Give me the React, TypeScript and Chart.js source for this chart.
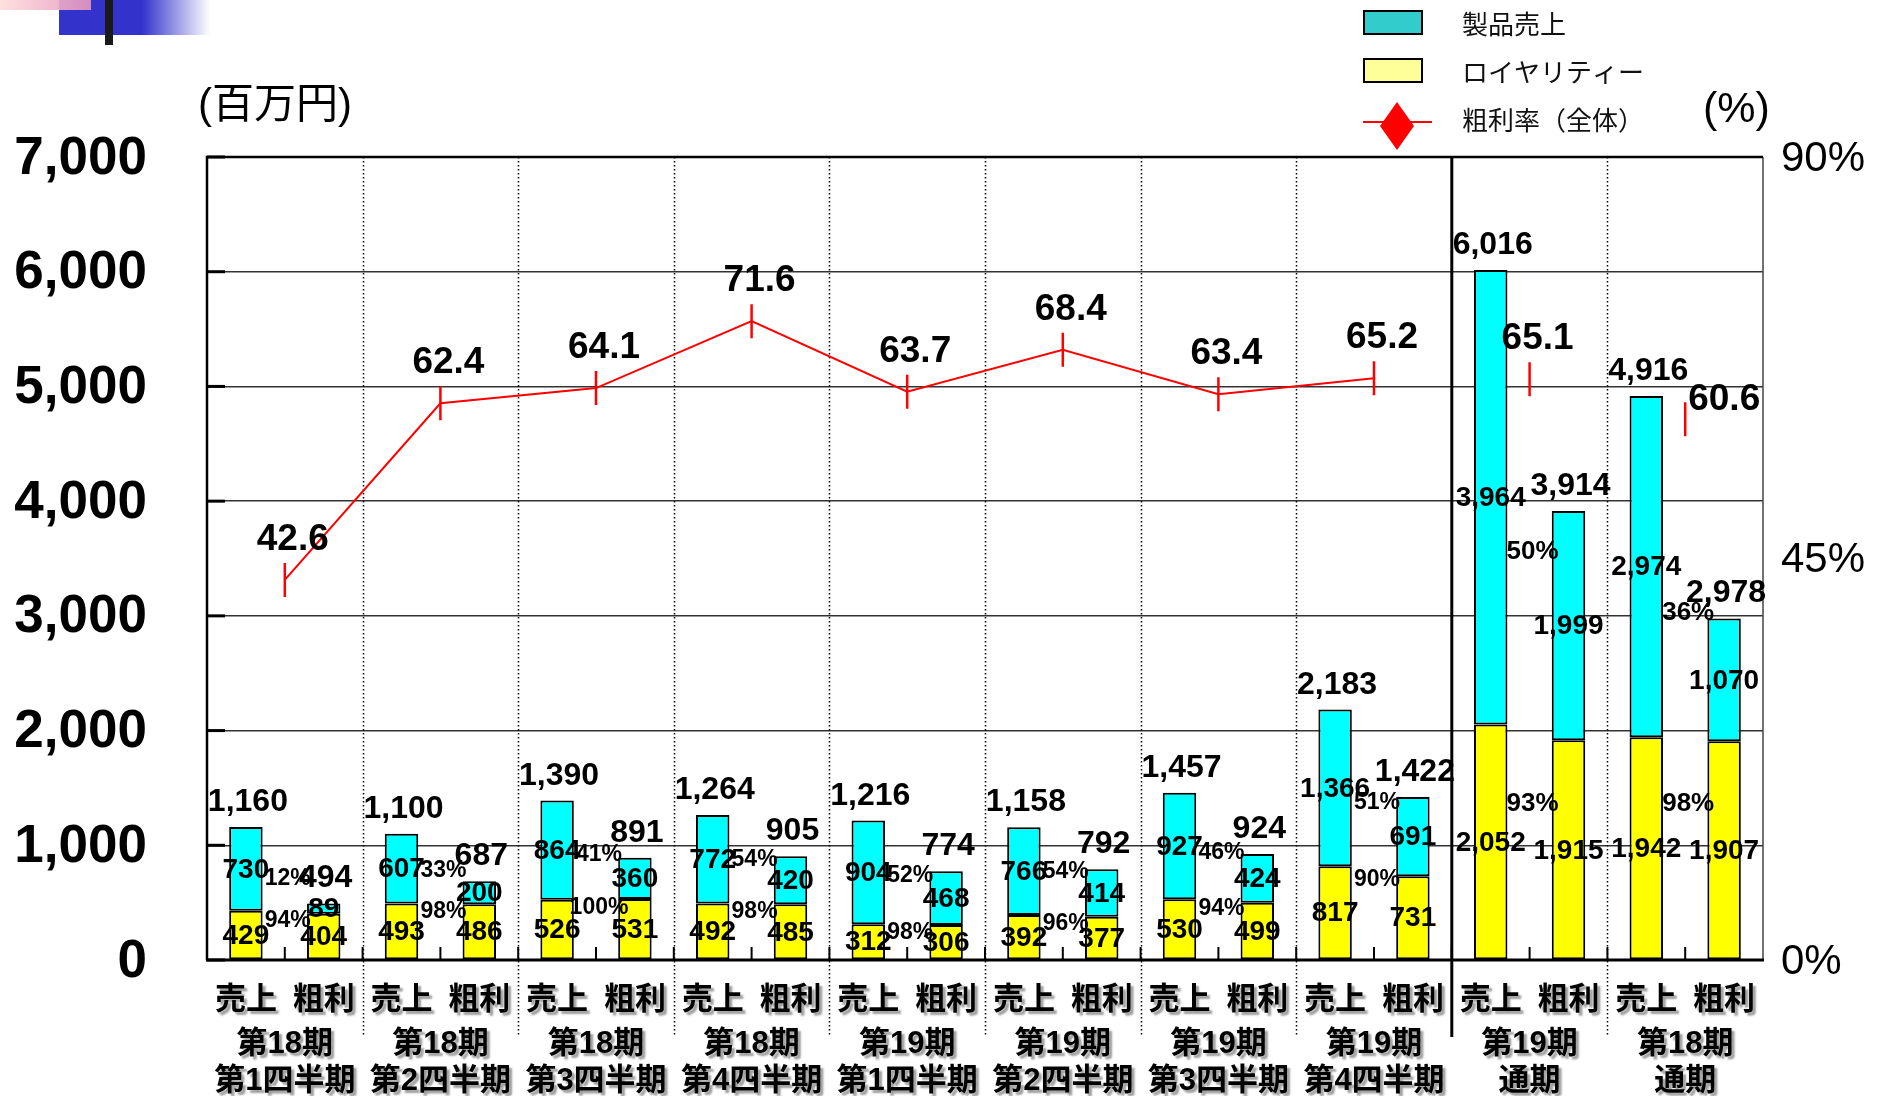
import React, { useEffect, useRef } from 'react';
import { Chart, registerables } from 'chart.js';

Chart.register(...registerables);

const W = 1883;
const H = 1096;
const FONT = '"Liberation Sans", Arial, "Noto Sans CJK JP", sans-serif';
const JFONT = '"Noto Sans CJK JP", "Liberation Sans", sans-serif';

// ---- data ----
const barKinds = ['売上', '粗利'];
const periodNames = ['第18期', '第18期', '第18期', '第18期', '第19期', '第19期', '第19期', '第19期', '第19期', '第18期'];
const periodSubs = ['第1四半期', '第2四半期', '第3四半期', '第4四半期', '第1四半期', '第2四半期', '第3四半期', '第4四半期', '通期', '通期'];

const salesRoyalty = [429, 493, 526, 492, 312, 392, 530, 817, 2052, 1942];
const salesProduct = [730, 607, 864, 772, 904, 766, 927, 1366, 3964, 2974];
const salesTotal = [1160, 1100, 1390, 1264, 1216, 1158, 1457, 2183, 6016, 4916];
const gpRoyalty = [404, 486, 531, 485, 306, 377, 499, 731, 1915, 1907];
const gpProduct = [89, 200, 360, 420, 468, 414, 424, 691, 1999, 1070];
const gpTotal = [494, 687, 891, 905, 774, 792, 924, 1422, 3914, 2978];
const productMarginPct = [12, 33, 41, 54, 52, 54, 46, 51, 50, 36];
const royaltyMarginPct = [94, 98, 100, 98, 98, 96, 94, 90, 93, 98];

const grossMarginQuarter = [42.6, 62.4, 64.1, 71.6, 63.7, 68.4, 63.4, 65.2];
const grossMarginYear = [65.1, 60.6];

const yTicks = [0, 1000, 2000, 3000, 4000, 5000, 6000, 7000];
const yTickLabels = ['0', '1,000', '2,000', '3,000', '4,000', '5,000', '6,000', '7,000'];
const y2Ticks = [0, 45, 90];
const y2TickLabels = ['0%', '45%', '90%'];
const legendLabels = ['製品売上', 'ロイヤリティー', '粗利率（全体）'];
const leftUnit = '(百万円)';
const rightUnit = '(%)';

const nGroups = periodNames.length;
const nQuarters = grossMarginQuarter.length;

const groupKeys = periodNames.map((p, k) => p + periodSubs[k]);
const categoryLabels: string[] = [];
const royaltyData: number[] = [];
const productData: number[] = [];
const totalData: number[] = [];
for (let k = 0; k < nGroups; k++) {
  categoryLabels.push(barKinds[0], barKinds[1]);
  royaltyData.push(salesRoyalty[k], gpRoyalty[k]);
  productData.push(salesProduct[k], gpProduct[k]);
  totalData.push(salesTotal[k], gpTotal[k]);
}
const quarterLine: (number | null)[] = groupKeys.map((_, k) => (k < nQuarters ? grossMarginQuarter[k] : null));
const yearLine: (number | null)[] = groupKeys.map((_, k) => (k >= nQuarters ? grossMarginYear[k - nQuarters] : null));

const fmt = (n: number) => n.toLocaleString('en-US');

const boundaryPx = (x: any, i: number) => (x.getPixelForValue(i) + x.getPixelForValue(i + 1)) / 2;

const customPlugin = {
  id: 'customDraw',
  beforeDatasetsDraw(chart: any) {
    const { ctx, chartArea: a, scales } = chart;
    const x = scales.x;
    const sepBottom = a.bottom + 77;
    ctx.save();
    ctx.strokeStyle = '#000';
    ctx.lineWidth = 1.5;
    ctx.setLineDash([1.5, 2.5]);
    for (let k = 0; k < nGroups - 1; k++) {
      if (k === nQuarters - 1) continue;
      const px = Math.round(boundaryPx(x, 2 * k + 1)) + 0.5;
      ctx.beginPath();
      ctx.moveTo(px, a.top);
      ctx.lineTo(px, sepBottom);
      ctx.stroke();
    }
    ctx.setLineDash([]);
    const sx = boundaryPx(x, 2 * (nQuarters - 1) + 1);
    ctx.lineWidth = 3;
    ctx.beginPath();
    ctx.moveTo(sx, a.top);
    ctx.lineTo(sx, sepBottom);
    ctx.stroke();
    ctx.restore();
  },
  afterDatasetsDraw(chart: any) {
    const { ctx, chartArea: a, scales } = chart;
    const x = scales.x;
    const y = scales.y;
    ctx.save();
    ctx.strokeStyle = '#444';
    ctx.lineWidth = 1.5;
    ctx.beginPath();
    ctx.moveTo(a.right, a.top);
    ctx.lineTo(a.right, a.bottom);
    ctx.stroke();
    ctx.strokeStyle = '#000';
    ctx.lineWidth = 2.5;
    ctx.beginPath();
    ctx.moveTo(a.left, a.bottom);
    ctx.lineTo(a.left, a.top);
    ctx.lineTo(a.right, a.top);
    ctx.stroke();
    ctx.lineWidth = 3;
    ctx.beginPath();
    ctx.moveTo(a.left - 1, a.bottom);
    ctx.lineTo(a.right + 1, a.bottom);
    ctx.stroke();
    yTicks.forEach((v) => {
      const py = y.getPixelForValue(v);
      ctx.beginPath();
      ctx.moveTo(a.left, py);
      ctx.lineTo(a.left + 18, py);
      ctx.stroke();
    });
    ctx.lineWidth = 2;
    for (let i = 0; i < categoryLabels.length - 1; i++) {
      const px = boundaryPx(x, i);
      ctx.beginPath();
      ctx.moveTo(px, a.bottom);
      ctx.lineTo(px, a.bottom - 13);
      ctx.stroke();
    }

    // bar labels
    const metaR = chart.getDatasetMeta(0);
    const metaP = chart.getDatasetMeta(1);
    ctx.fillStyle = '#000';
    ctx.textAlign = 'center';
    for (let i = 0; i < categoryLabels.length; i++) {
      const r = metaR.data[i].getProps(['x', 'y', 'base'], true);
      const p = metaP.data[i].getProps(['x', 'y', 'base'], true);
      ctx.font = `bold 28px ${FONT}`;
      ctx.textBaseline = 'middle';
      ctx.fillText(fmt(royaltyData[i]), r.x, (r.y + r.base) / 2 + 1);
      ctx.fillText(fmt(productData[i]), p.x, (p.y + p.base) / 2 + 1);
      ctx.font = `bold 32px ${FONT}`;
      ctx.textBaseline = 'alphabetic';
      ctx.fillText(fmt(totalData[i]), p.x + 2, p.y - 16);
    }
    // margin percentages between the two bars of a group
    for (let k = 0; k < nGroups; k++) {
      const px = boundaryPx(x, 2 * k);
      const ps = metaP.data[2 * k].getProps(['y', 'base'], true);
      const pg = metaP.data[2 * k + 1].getProps(['y', 'base'], true);
      const rs = metaR.data[2 * k].getProps(['y', 'base'], true);
      const rg = metaR.data[2 * k + 1].getProps(['y', 'base'], true);
      ctx.font = `bold ${k >= nQuarters ? 26 : 23}px ${FONT}`;
      ctx.textBaseline = 'middle';
      const cy = ((ps.y + ps.base) / 2 + (pg.y + pg.base) / 2) / 2 - 10;
      ctx.fillText(productMarginPct[k] + '%', px + 3, cy);
      const hAvg = (rs.base - rs.y + rg.base - rg.y) / 2;
      const ry = rs.base - Math.min(hAvg - 8, 155);
      ctx.fillText(royaltyMarginPct[k] + '%', px + 3, ry);
    }
    // line value labels
    ctx.font = `bold 37px ${FONT}`;
    ctx.textBaseline = 'alphabetic';
    const metaQ = chart.getDatasetMeta(2);
    metaQ.data.forEach((pt: any, i: number) => {
      if (quarterLine[i] == null) return;
      ctx.textAlign = 'center';
      ctx.fillText((quarterLine[i] as number).toFixed(1), pt.x + 8, pt.y - 30);
    });
    const metaY = chart.getDatasetMeta(3);
    metaY.data.forEach((pt: any, i: number) => {
      const v = yearLine[i];
      if (v == null) return;
      if (i === nGroups - 1) {
        ctx.textAlign = 'left';
        ctx.fillText(v.toFixed(1), pt.x + 3, pt.y - 9);
      } else {
        ctx.textAlign = 'center';
        ctx.fillText(v.toFixed(1), pt.x + 8, pt.y - 30);
      }
    });
    ctx.restore();
  },
  afterDraw(chart: any) {
    const { ctx, chartArea: a, scales } = chart;
    const x = scales.x;
    const y = scales.y;
    const y2 = scales.y2;
    ctx.save();
    ctx.fillStyle = '#000';
    ctx.font = `bold 53px ${FONT}`;
    ctx.textAlign = 'right';
    ctx.textBaseline = 'middle';
    yTicks.forEach((v, i) => ctx.fillText(yTickLabels[i], 147, y.getPixelForValue(v) + 2));
    ctx.font = `42px ${FONT}`;
    ctx.textAlign = 'left';
    y2Ticks.forEach((v, i) => ctx.fillText(y2TickLabels[i], a.right + 18, y2.getPixelForValue(v) + 2));
    ctx.font = `42px ${FONT}`;
    ctx.fillText(leftUnit, 198, 106);
    ctx.font = `43px ${FONT}`;
    ctx.fillText(rightUnit, 1703, 110);

    ctx.shadowColor = 'rgba(0,0,0,0.38)';
    ctx.shadowOffsetX = 3;
    ctx.shadowOffsetY = 3;
    ctx.shadowBlur = 2;
    ctx.textAlign = 'center';
    ctx.font = `bold 31px ${FONT}`;
    for (let i = 0; i < categoryLabels.length; i++) {
      ctx.fillText(categoryLabels[i], x.getPixelForValue(i), a.bottom + 40);
    }
    for (let k = 0; k < nGroups; k++) {
      const gx = boundaryPx(x, 2 * k);
      ctx.fillText(periodNames[k], gx, a.bottom + 84);
      ctx.fillText(periodSubs[k], gx, a.bottom + 121);
    }
    ctx.shadowColor = 'transparent';
    ctx.shadowOffsetX = 0;
    ctx.shadowOffsetY = 0;
    ctx.shadowBlur = 0;

    // legend
    const lx = 1364;
    const lw = 58;
    ctx.lineWidth = 2;
    ctx.strokeStyle = '#000';
    ctx.fillStyle = '#33CCCC';
    ctx.fillRect(lx, 11, lw, 23);
    ctx.strokeRect(lx, 11, lw, 23);
    ctx.fillStyle = '#FFFF99';
    ctx.fillRect(lx, 59, lw, 23);
    ctx.strokeRect(lx, 59, lw, 23);
    ctx.strokeStyle = '#FF0000';
    ctx.beginPath();
    ctx.moveTo(lx - 1, 122);
    ctx.lineTo(lx + 68, 122);
    ctx.stroke();
    ctx.fillStyle = '#FF0000';
    const dx = lx + 33;
    ctx.beginPath();
    ctx.moveTo(dx, 102);
    ctx.lineTo(dx + 17, 126);
    ctx.lineTo(dx, 150);
    ctx.lineTo(dx - 17, 126);
    ctx.closePath();
    ctx.fill();
    ctx.fillStyle = '#111';
    ctx.font = `26px ${JFONT}`;
    ctx.textAlign = 'left';
    ctx.textBaseline = 'middle';
    ctx.fillText(legendLabels[0], 1462, 24);
    ctx.fillText(legendLabels[1], 1462, 72);
    ctx.fillText(legendLabels[2], 1462, 120);
    ctx.restore();
  },
};

export default function App() {
  const ref = useRef<HTMLCanvasElement | null>(null);
  useEffect(() => {
    if (!ref.current) return;
    const barCommon = {
      borderColor: '#000',
      borderWidth: 2,
      borderSkipped: false,
      stack: 's',
      grouped: false,
      categoryPercentage: 1,
      barPercentage: 0.43,
      xAxisID: 'x',
      yAxisID: 'y',
    };
    const lineCommon = {
      type: 'line',
      xAxisID: 'x2',
      yAxisID: 'y2',
      borderColor: '#FF0000',
      borderWidth: 2,
      pointStyle: 'line',
      rotation: 90,
      pointRadius: 17,
      pointBorderWidth: 2.5,
      pointBorderColor: '#FF0000',
      tension: 0,
      spanGaps: false,
      order: -1,
    };
    const chart = new Chart(ref.current, {
      type: 'bar',
      data: {
        labels: categoryLabels,
        datasets: [
          { ...barCommon, label: legendLabels[1], data: royaltyData, backgroundColor: '#FFFF00' } as any,
          { ...barCommon, label: legendLabels[0], data: productData, backgroundColor: '#00FFFF' } as any,
          { ...lineCommon, label: legendLabels[2], data: quarterLine } as any,
          { ...lineCommon, label: legendLabels[2], data: yearLine, showLine: false } as any,
        ],
      },
      options: {
        responsive: false,
        animation: false,
        devicePixelRatio: 1,
        layout: { padding: { left: 207, top: 157, right: 120, bottom: 136 } },
        plugins: { legend: { display: false }, tooltip: { enabled: false } },
        scales: {
          x: {
            type: 'category',
            offset: true,
            stacked: true,
            grid: { display: false },
            ticks: { display: false },
            border: { display: false },
            afterFit: (s: any) => { s.height = 0; },
          },
          y: {
            min: 0,
            max: 7000,
            stacked: true,
            ticks: { display: false, stepSize: 1000 },
            grid: { color: '#333', lineWidth: 1.5, drawTicks: false },
            border: { display: false },
            afterFit: (s: any) => { s.width = 0; },
          },
          x2: {
            type: 'category',
            labels: groupKeys,
            offset: true,
            display: false,
          },
          y2: { type: 'linear', min: 0, max: 90, display: false, position: 'right' },
        },
      } as any,
      plugins: [customPlugin],
    });
    return () => chart.destroy();
  }, []);

  return (
    <div style={{ position: 'absolute', left: 0, top: 0, width: W, height: H, background: '#fff', overflow: 'hidden' }}>
      <div style={{ position: 'absolute', left: 59, top: 0, width: 151, height: 35, background: 'linear-gradient(to right, #3333CC 0%, #3333CC 55%, rgba(51,51,204,0) 100%)' }} />
      <div style={{ position: 'absolute', left: 0, top: 0, width: 91, height: 10, background: 'linear-gradient(to right, rgba(255,220,220,0.9), rgba(230,150,190,0.9))' }} />
      <div style={{ position: 'absolute', left: 105, top: 0, width: 8, height: 45, background: '#1a1a1a' }} />
      <canvas ref={ref} width={W} height={H} style={{ position: 'absolute', left: 0, top: 0, width: W, height: H }} />
    </div>
  );
}
